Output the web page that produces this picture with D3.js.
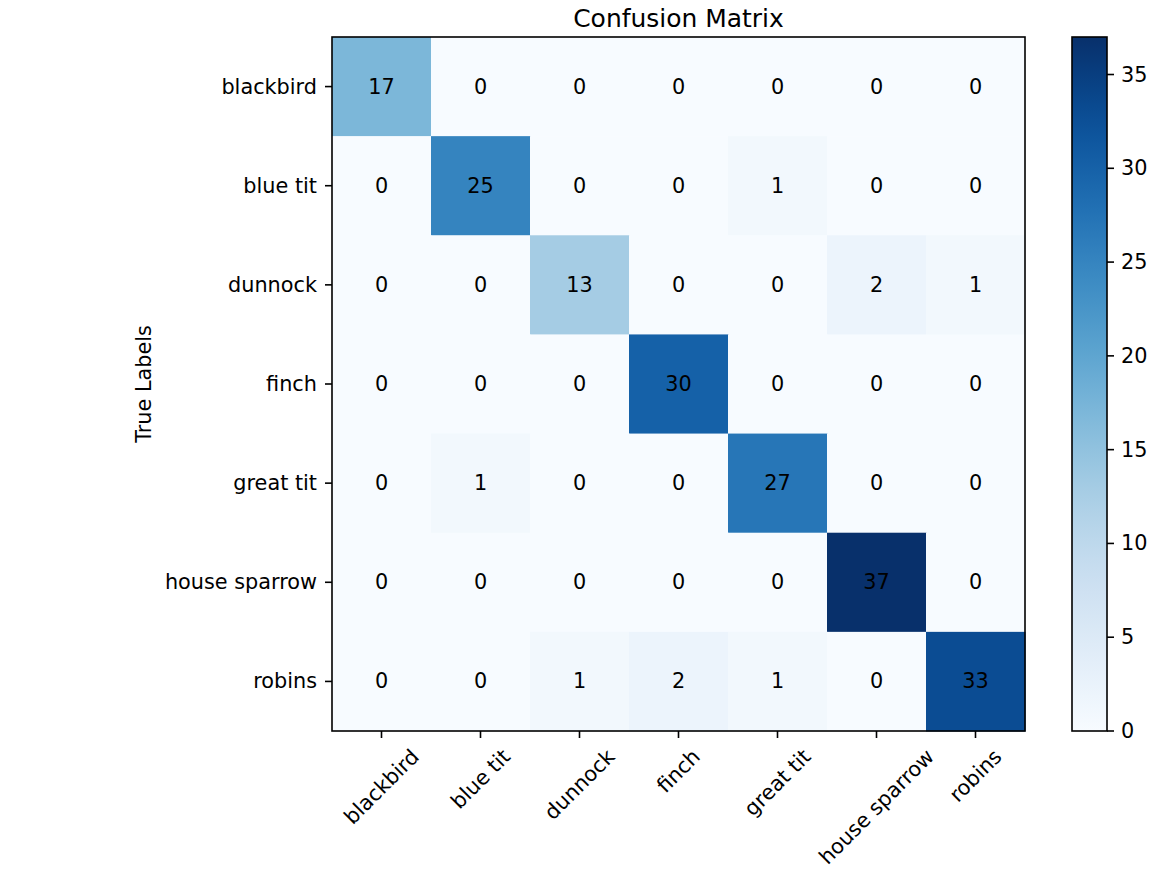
<!DOCTYPE html>
<html><head><meta charset="utf-8">
<script src="https://cdn.jsdelivr.net/npm/d3@7"></script>
<style>body{margin:0;background:#fff;} text{font-family:"DejaVu Sans",sans-serif;fill:#000;}</style>
</head><body>
<svg id="c" width="1167" height="873"></svg>
<script>
const labels = ["blackbird","blue tit","dunnock","finch","great tit","house sparrow","robins"];
const matrix = [
  [17,0,0,0,0,0,0],
  [0,25,0,0,1,0,0],
  [0,0,13,0,0,2,1],
  [0,0,0,30,0,0,0],
  [0,1,0,0,27,0,0],
  [0,0,0,0,0,37,0],
  [0,0,1,2,1,0,33]
];
const colorbarTicks = [0,5,10,15,20,25,30,35];
const title = "Confusion Matrix";
const yTitle = "True Labels";

const FS = 20.8;
const svg = d3.select("#c");
const L = 332, T = 37, R = 1025, B = 731;
const x = d3.scaleBand().domain(labels).range([L, R]);
const y = d3.scaleBand().domain(labels).range([T, B]);
const vmax = d3.max(matrix.flat());
const color = d3.scaleSequential(d3.interpolateBlues).domain([0, vmax]);

const cells = [];
matrix.forEach((row,i)=>row.forEach((v,j)=>cells.push({r:labels[i],c:labels[j],v})));

svg.append("g").selectAll("rect").data(cells).join("rect")
  .attr("x",d=>x(d.c)).attr("y",d=>y(d.r))
  .attr("width",x.bandwidth()+0.5).attr("height",y.bandwidth()+0.5)
  .attr("fill",d=>color(d.v));

svg.append("g").selectAll("text").data(cells).join("text")
  .attr("x",d=>x(d.c)+x.bandwidth()/2).attr("y",d=>y(d.r)+y.bandwidth()/2)
  .attr("text-anchor","middle").attr("dominant-baseline","central")
  .attr("font-size",FS).text(d=>d.v);

svg.append("rect").attr("x",L).attr("y",T).attr("width",R-L).attr("height",B-T)
  .attr("fill","none").attr("stroke","#000").attr("stroke-width",1.6);

// y axis
const yAxis = svg.append("g");
labels.forEach(l=>{
  const cy = y(l)+y.bandwidth()/2;
  yAxis.append("line").attr("x1",L-7).attr("x2",L).attr("y1",cy).attr("y2",cy).attr("stroke","#000").attr("stroke-width",1.6);
  yAxis.append("text").attr("x",L-15).attr("y",cy).attr("text-anchor","end").attr("dominant-baseline","central").attr("font-size",FS).text(l);
});
// x axis
const xAxis = svg.append("g");
labels.forEach(l=>{
  const cx = x(l)+x.bandwidth()/2;
  xAxis.append("line").attr("x1",cx).attr("x2",cx).attr("y1",B).attr("y2",B+7).attr("stroke","#000").attr("stroke-width",1.6);
  const t = xAxis.append("text").attr("text-anchor","middle").attr("dominant-baseline","central").attr("font-size",FS).text(l);
  const w = t.node().getComputedTextLength();
  const h = FS*1.1;
  const bb = (w+h)*Math.SQRT1_2;
  const cyy = B + 14 + bb/2;
  t.attr("transform",`translate(${cx},${cyy}) rotate(-45)`);
});

svg.append("text").attr("transform",`translate(144,${(T+B)/2}) rotate(-90)`)
  .attr("text-anchor","middle").attr("dominant-baseline","central").attr("font-size",FS).text(yTitle);
svg.append("text").attr("x",(L+R)/2).attr("y",27).attr("text-anchor","middle")
  .attr("font-size",FS*1.2).text(title);

// colorbar
const CL = 1072, CR = 1107;
const cbScale = d3.scaleLinear().domain([0,vmax]).range([B,T]);
const defs = svg.append("defs");
const grad = defs.append("linearGradient").attr("id","g").attr("x1",0).attr("y1",1).attr("x2",0).attr("y2",0);
d3.range(0,1.0001,0.05).forEach(s=>grad.append("stop").attr("offset",s).attr("stop-color",color(s*vmax)));
svg.append("rect").attr("x",CL).attr("y",T).attr("width",CR-CL).attr("height",B-T).attr("fill","url(#g)")
  .attr("stroke","#000").attr("stroke-width",1.6);
const cb = svg.append("g");
colorbarTicks.forEach(v=>{
  const yy = cbScale(v);
  cb.append("line").attr("x1",CR).attr("x2",CR+7).attr("y1",yy).attr("y2",yy).attr("stroke","#000").attr("stroke-width",1.6);
  cb.append("text").attr("x",CR+14).attr("y",yy).attr("dominant-baseline","central").attr("font-size",FS).text(v);
});
</script>
</body></html>
